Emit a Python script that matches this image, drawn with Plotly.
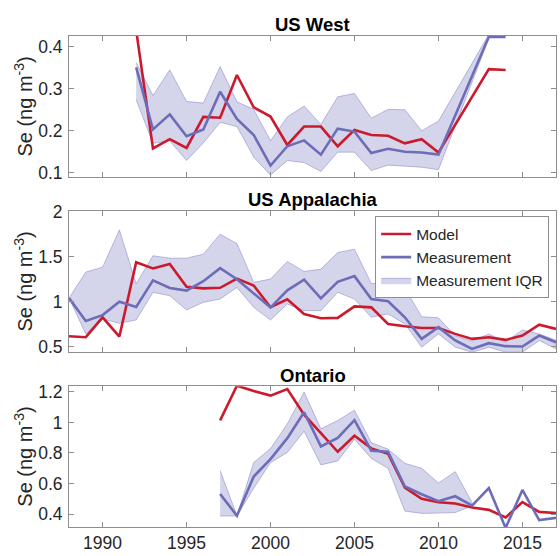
import plotly.graph_objects as go

# ---------------- data ----------------
# US West (no observations for 2011-2012)
west_years = [1992, 1993, 1994, 1995, 1996, 1997, 1998, 1999, 2000, 2001, 2002,
              2003, 2004, 2005, 2006, 2007, 2008, 2009, 2010, 2013, 2014]
west_model = [0.44, 0.158, 0.18, 0.159, 0.233, 0.231, 0.333, 0.256, 0.234, 0.166, 0.21,
              0.21, 0.163, 0.202, 0.19, 0.188, 0.17, 0.18, 0.148, 0.347, 0.345]
west_meas = [0.351, 0.203, 0.239, 0.187, 0.203, 0.293, 0.228, 0.19, 0.117, 0.163, 0.177,
             0.143, 0.205, 0.198, 0.147, 0.157, 0.15, 0.148, 0.143, 0.424, 0.424]
west_q1 = [0.274, 0.17, 0.176, 0.129, 0.171, 0.22, 0.21, 0.137, 0.094, 0.129, 0.124,
           0.103, 0.149, 0.149, 0.105, 0.118, 0.115, 0.113, 0.107, 0.42, None]
west_q3 = [0.363, 0.284, 0.345, 0.27, 0.266, 0.353, 0.269, 0.251, 0.176, 0.233, 0.259,
           0.215, 0.281, 0.289, 0.23, 0.251, 0.25, 0.2, 0.223, 0.43, None]

# US Appalachia
app_years = list(range(1988, 2018))
app_model = [0.615, 0.604, 0.826, 0.611, 1.44, 1.37, 1.42, 1.165, 1.148, 1.155, 1.257, 1.18,
             0.938, 1.027, 0.862, 0.815, 0.819, 0.948, 0.937, 0.752, 0.726, 0.707, 0.707,
             0.641, 0.585, 0.604, 0.574, 0.622, 0.744, 0.696]
app_meas = [1.04, 0.785, 0.85, 1.0, 0.942, 1.237, 1.152, 1.123, 1.228, 1.373, 1.25, 1.094,
            0.934, 1.126, 1.245, 1.037, 1.222, 1.285, 1.03, 1.004, 0.826, 0.585, 0.715,
            0.567, 0.474, 0.537, 0.504, 0.5, 0.622, 0.548]
app_q1 = [1.04, 0.641, 0.807, 0.759, 0.796, 1.104, 1.067, 0.907, 0.993, 1.03, 1.159, 0.937,
          0.796, 0.974, 0.9, 0.9, 1.104, 1.03, 0.826, 0.863, 0.752, 0.493, 0.641, 0.493,
          0.437, 0.493, 0.437, 0.437, 0.567, 0.474]
app_q3 = [1.04, 1.33, 1.385, 1.8, 1.2, 1.512, 1.485, 1.485, 1.53, 1.752, 1.648, 1.215,
          1.252, 1.448, 1.337, 1.363, 1.548, 1.585, 1.204, 1.196, 1.152, 0.833, 0.82,
          0.62, 0.56, 0.64, 0.55, 0.685, 0.64, 0.57]

# Ontario
ont_years = list(range(1997, 2018))
ont_model = [1.013, 1.24, 1.205, 1.175, 1.218, 1.05, 0.93, 0.808, 0.913, 0.83, 0.795,
             0.573, 0.5, 0.478, 0.47, 0.443, 0.428, 0.378, 0.479, 0.415, 0.408]
ont_meas = [0.532, 0.39, 0.646, 0.76, 0.897, 1.066, 0.843, 0.898, 1.015, 0.815, 0.808,
            0.581, 0.53, 0.485, 0.517, 0.455, 0.571, 0.31, 0.558, 0.361, 0.376]
ont_q1 = [0.388, 0.388, 0.57, 0.737, 0.803, 0.942, 0.722, 0.748, 0.89, 0.764, 0.7,
          0.42, 0.405, 0.407, 0.41, 0.455, None, None, None, None, None]
ont_q3 = [0.685, 0.39, 0.738, 0.829, 0.99, 1.198, 0.958, 1.012, 1.08, 0.868, 0.825,
          0.732, 0.70, 0.603, 0.678, 0.476, None, None, None, None, None]

x_ticks = [1990, 1995, 2000, 2005, 2010, 2015]

# ---------------- style ----------------
RED = "#CB1A2D"
BLUE = "#6D6CB9"
FILL = "rgba(112,112,190,0.30)"
EDGE = "rgba(112,112,190,0.55)"
FRAME = "#8E8E8E"
TXT = "#262626"
FONT = "Liberation Sans, Arial, Helvetica, sans-serif"
TICK_SIZE = 17.5

panels = [
    ("US West", west_years, west_model, west_meas, west_q1, west_q3,
     [0.09, 0.426], [0.1, 0.2, 0.3, 0.4], ["0.1", "0.2", "0.3", "0.4"]),
    ("US Appalachia", app_years, app_model, app_meas, app_q1, app_q3,
     [0.44, 2.01], [0.5, 1, 1.5, 2], ["0.5", "1", "1.5", "2"]),
    ("Ontario", ont_years, ont_model, ont_meas, ont_q1, ont_q3,
     [0.316, 1.237], [0.4, 0.6, 0.8, 1.0, 1.2], ["0.4", "0.6", "0.8", "1", "1.2"]),
]

# vertical domains (paper fractions), top panel first
domains = [[0.7131, 1.0], [0.3566, 0.6434], [0.0, 0.2869]]
title_y = [1.0242, 0.6667, 0.309]

fig = go.Figure()
layout = dict(
    width=560, height=556,
    margin=dict(l=69, r=3, t=36, b=25),
    paper_bgcolor="white", plot_bgcolor="white",
    font=dict(family=FONT, size=TICK_SIZE, color=TXT),
    showlegend=True,
    legend=dict(
        x=0.986, y=0.6325, xanchor="right", yanchor="top",
        bgcolor="white", bordercolor=FRAME, borderwidth=1,
        font=dict(family=FONT, size=15.5, color=TXT),
        tracegroupgap=0, itemwidth=30,
    ),
    annotations=[],
)

for i, (name, yrs, model, meas, q1, q3, yr, tv, tt) in enumerate(panels):
    n = i + 1
    xa = "x" if n == 1 else f"x{n}"
    ya = "y" if n == 1 else f"y{n}"
    legend_on = (n == 2)

    # interquartile band as a closed polygon over the years that have it
    bx = [y for y, a, b in zip(yrs, q1, q3) if a is not None and b is not None]
    blo = [a for a, b in zip(q1, q3) if a is not None and b is not None]
    bhi = [b for a, b in zip(q1, q3) if a is not None and b is not None]
    fig.add_trace(go.Scatter(
        x=bx + bx[::-1], y=bhi + blo[::-1], mode="lines", fill="toself",
        fillcolor=FILL, line=dict(color=EDGE, width=0.8),
        name="Measurement IQR", showlegend=legend_on, legendrank=3,
        hoverinfo="skip", xaxis=xa, yaxis=ya,
    ))
    fig.add_trace(go.Scatter(
        x=yrs, y=model, mode="lines", line=dict(color=RED, width=2.6),
        name="Model", showlegend=legend_on, legendrank=1, xaxis=xa, yaxis=ya,
    ))
    fig.add_trace(go.Scatter(
        x=yrs, y=meas, mode="lines", line=dict(color=BLUE, width=2.6),
        name="Measurement", showlegend=legend_on, legendrank=2, xaxis=xa, yaxis=ya,
    ))

    axis_common = dict(
        showline=True, linecolor=FRAME, linewidth=1, mirror="ticks",
        ticks="inside", ticklen=5, tickwidth=1, tickcolor=FRAME,
        showgrid=False, zeroline=False,
        tickfont=dict(family=FONT, size=TICK_SIZE, color=TXT),
    )
    xkey = "xaxis" if n == 1 else f"xaxis{n}"
    ykey = "yaxis" if n == 1 else f"yaxis{n}"
    layout[xkey] = dict(
        axis_common, domain=[0, 1], range=[1988, 2017], anchor=ya,
        tickvals=x_ticks, ticktext=[str(v) for v in x_ticks],
        showticklabels=(n == 3),
    )
    layout[ykey] = dict(
        axis_common, domain=domains[i], range=yr, anchor=xa,
        tickvals=tv, ticktext=tt, ticklabelstandoff=2,
    )

    # panel title
    layout["annotations"].append(dict(
        text=f"<b>{name}</b>", xref="paper", yref="paper", x=0.5, y=title_y[i],
        xanchor="center", yanchor="middle", showarrow=False,
        font=dict(family=FONT, size=18.5, color="black"),
    ))
    # y-axis label
    layout["annotations"].append(dict(
        text="Se (ng m<sup>-3</sup>)", xref="paper", yref="paper",
        x=-0.0942, y=(domains[i][0] + domains[i][1]) / 2,
        xanchor="center", yanchor="middle", textangle=-90, showarrow=False,
        font=dict(family=FONT, size=20, color=TXT),
    ))

fig.update_layout(**layout)
fig.write_html("out.html")
